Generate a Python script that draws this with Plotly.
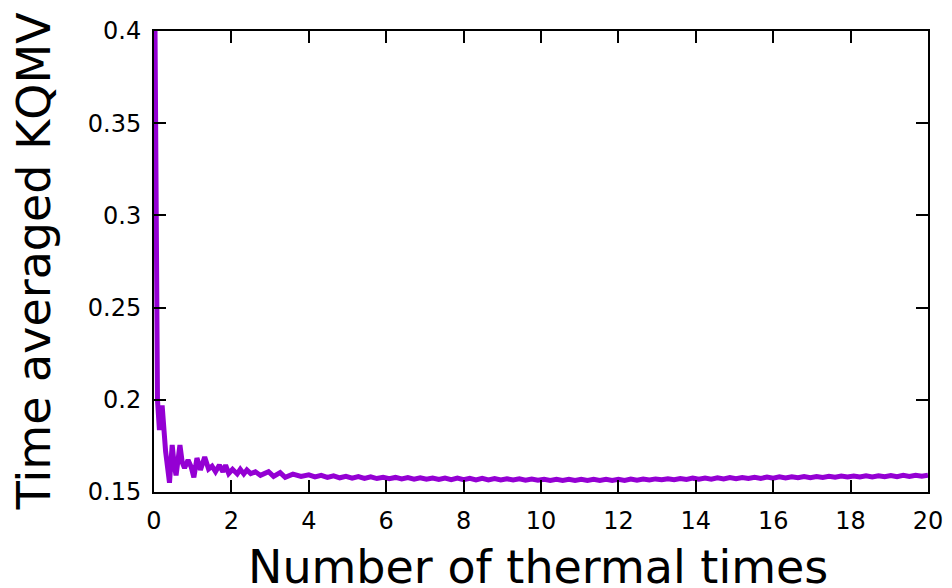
import plotly.graph_objects as go

# Early transient
x_early = [0.00, 0.02, 0.09, 0.14, 0.21, 0.30, 0.40, 0.47, 0.52, 0.57, 0.67, 0.73, 0.79, 0.88,
           0.96, 1.03, 1.11, 1.20, 1.31, 1.41, 1.50, 1.59, 1.69, 1.78, 1.85, 1.93, 2.03, 2.15,
           2.23, 2.32, 2.40, 2.50, 2.62, 2.75, 2.96, 3.09, 3.26, 3.39, 3.59, 3.80]
y_early = [0.334, 0.420, 0.200, 0.1836, 0.197, 0.172, 0.155, 0.1755, 0.165, 0.159, 0.1755, 0.166,
           0.163, 0.1673, 0.1636, 0.158, 0.1684, 0.162, 0.169, 0.1625, 0.164, 0.161, 0.1646, 0.161,
           0.1646, 0.160, 0.1623, 0.1598, 0.1623, 0.1598, 0.162, 0.160, 0.161, 0.159, 0.161, 0.1585,
           0.1605, 0.158, 0.1597, 0.1584]

# Long-time tail
x_tail = [4.00, 4.16, 4.32, 4.48, 4.64, 4.80, 4.96, 5.12, 5.28, 5.44, 5.60, 5.76, 5.92, 6.08,
          6.24, 6.40, 6.56, 6.72, 6.88, 7.04, 7.20, 7.36, 7.52, 7.68, 7.84, 8.00, 8.16, 8.32,
          8.48, 8.64, 8.80, 8.96, 9.12, 9.28, 9.44, 9.60, 9.76, 9.92, 10.08, 10.24, 10.40, 10.56,
          10.72, 10.88, 11.04, 11.20, 11.36, 11.52, 11.68, 11.84, 12.00, 12.16, 12.32, 12.48,
          12.64, 12.80, 12.96, 13.12, 13.28, 13.44, 13.60, 13.76, 13.92, 14.08, 14.24, 14.40,
          14.56, 14.72, 14.88, 15.04, 15.20, 15.36, 15.52, 15.68, 15.84, 16.00, 16.16, 16.32,
          16.48, 16.64, 16.80, 16.96, 17.12, 17.28, 17.44, 17.60, 17.76, 17.92, 18.08, 18.24,
          18.40, 18.56, 18.72, 18.88, 19.04, 19.20, 19.36, 19.52, 19.68, 19.84, 20.00]
y_tail = [0.1593, 0.1582, 0.1590, 0.1579, 0.1588, 0.1577, 0.1585, 0.1575, 0.1584, 0.1574,
          0.1582, 0.1573, 0.1580, 0.1572, 0.1579, 0.1571, 0.1578, 0.1570, 0.1577, 0.1569,
          0.1576, 0.1568, 0.1576, 0.1567, 0.1575, 0.1567, 0.1574, 0.1566, 0.1574, 0.1566,
          0.1573, 0.1565, 0.1572, 0.1565, 0.1571, 0.1564, 0.1570, 0.1564, 0.1569, 0.1563,
          0.1569, 0.1563, 0.1569, 0.1563, 0.1569, 0.1563, 0.1569, 0.1563, 0.1569, 0.1563,
          0.1569, 0.1563, 0.1570, 0.1564, 0.1570, 0.1565, 0.1571, 0.1566, 0.1572, 0.1567,
          0.1573, 0.1568, 0.1575, 0.1569, 0.1576, 0.1570, 0.1577, 0.1571, 0.1578, 0.1572,
          0.1579, 0.1573, 0.1580, 0.1574, 0.1581, 0.1575, 0.1582, 0.1576, 0.1583, 0.1577,
          0.1584, 0.1578, 0.1584, 0.1579, 0.1585, 0.1580, 0.1586, 0.1581, 0.1587, 0.1581,
          0.1588, 0.1582, 0.1588, 0.1583, 0.1589, 0.1583, 0.1590, 0.1584, 0.1591, 0.1585,
          0.1591]

x_vals = x_early + x_tail
y_vals = y_early + y_tail

x_title = "Number of thermal times"
y_title = "Time averaged KQMV"

FONT = "DejaVu Sans"

fig = go.Figure()
fig.add_trace(go.Scatter(x=x_vals, y=y_vals, mode="lines",
                         line=dict(color="#9400D3", width=5), showlegend=False))

axis_common = dict(showline=True, linecolor="black", linewidth=2, mirror="ticks",
                   ticks="inside", ticklen=12, tickwidth=2, tickcolor="black",
                   showgrid=False, zeroline=False,
                   tickfont=dict(family=FONT, size=24, color="black"))

fig.update_xaxes(range=[0, 20], dtick=2, tick0=0, ticklabelstandoff=6, **axis_common)
fig.update_yaxes(range=[0.15, 0.4], dtick=0.05, tick0=0.15, ticklabelstandoff=6, **axis_common)

fig.add_annotation(text=x_title, xref="paper", yref="paper", x=0.496, y=-0.162,
                   xanchor="center", yanchor="middle", showarrow=False,
                   font=dict(family=FONT, size=46, color="black"))
fig.add_annotation(text=y_title, xref="paper", yref="paper", x=-0.1555, y=0.5,
                   xanchor="center", yanchor="middle", showarrow=False, textangle=-90,
                   font=dict(family=FONT, size=46, color="black"))

fig.update_layout(width=952, height=588, plot_bgcolor="white", paper_bgcolor="white",
                  margin=dict(l=153.5, r=23.5, t=31, b=96, autoexpand=False))

fig.write_html("out.html")
